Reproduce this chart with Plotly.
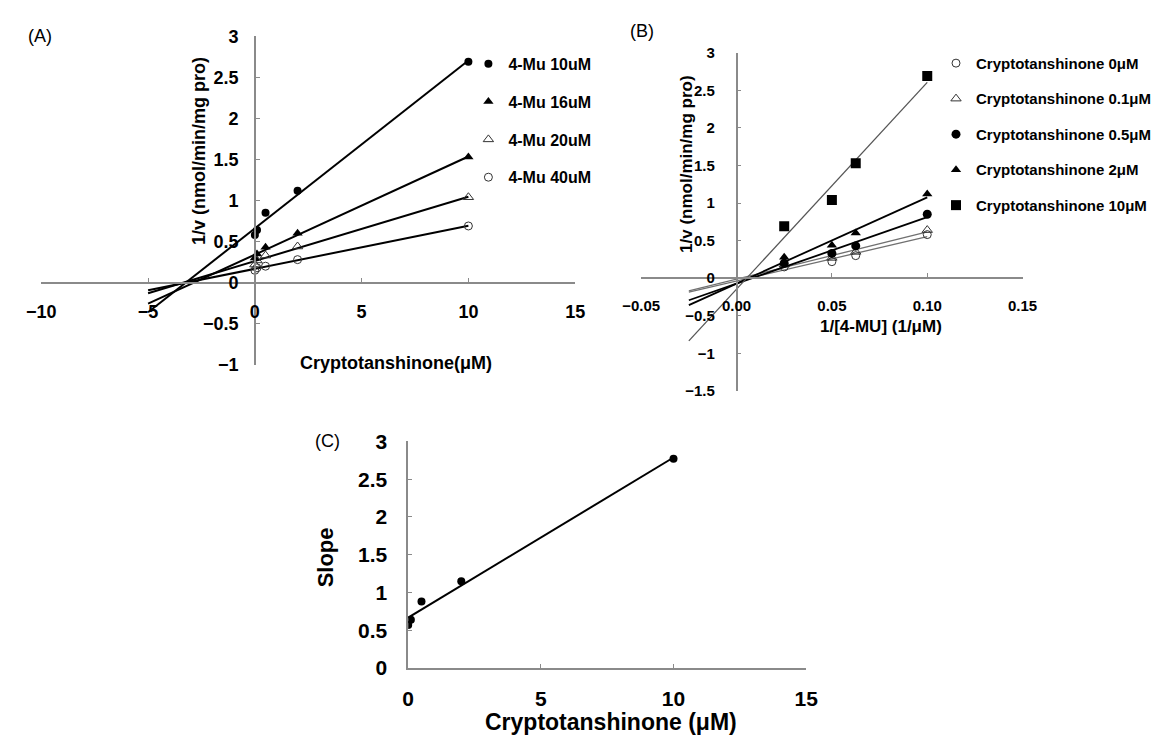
import numpy as np
import plotly.graph_objects as go

W, H = 1157, 746
FONT = "Liberation Sans, Arial, sans-serif"
AXIS_GRAY = "#8a8a8a"

# Cryptotanshinone (inhibitor) concentrations, µM
inhibitor = [0, 0.1, 0.5, 2, 10]
# 4-MU (substrate) concentrations, µM
substrate = [10, 16, 20, 40]

# 1/v (nmol/min/mg pro) at each inhibitor level, one list per 4-MU level
inv_v_mu10 = [0.58, 0.64, 0.85, 1.12, 2.69]
inv_v_mu16 = [0.30, 0.35, 0.43, 0.60, 1.53]
inv_v_mu20 = [0.22, 0.27, 0.33, 0.44, 1.04]
inv_v_mu40 = [0.15, 0.18, 0.20, 0.28, 0.69]

# Secondary plot: slope of each Lineweaver-Burk line vs inhibitor
slope_values = [0.57, 0.64, 0.88, 1.15, 2.77]

dixon_labels = ["4-Mu 10uM", "4-Mu 16uM", "4-Mu 20uM", "4-Mu 40uM"]
lb_labels = ["Cryptotanshinone 0\u03bcM", "Cryptotanshinone 0.1\u03bcM",
             "Cryptotanshinone 0.5\u03bcM", "Cryptotanshinone 2\u03bcM",
             "Cryptotanshinone 10\u03bcM"]


def px_x(p):
    return p / W


def px_y(p):
    return 1 - p / H


def fit_line(x, y, x0, x1):
    k, b = np.polyfit(np.asarray(x, float), np.asarray(y, float), 1)
    xs = np.array([x0, x1])
    return xs, k * xs + b


fig = go.Figure()

# ---------------- (A) Dixon plot ----------------
dixon_series = [inv_v_mu10, inv_v_mu16, inv_v_mu20, inv_v_mu40]
dixon_markers = [
    dict(symbol="circle", size=8, color="black"),
    dict(symbol="triangle-up", size=9, color="black"),
    dict(symbol="triangle-up-open", size=9, color="#333", line=dict(width=1)),
    dict(symbol="circle-open", size=8, color="#333", line=dict(width=1)),
]
for vals, lab, mk in zip(dixon_series, dixon_labels, dixon_markers):
    xs, ys = fit_line(inhibitor, vals, -5, 10)
    fig.add_trace(go.Scatter(x=xs, y=ys, mode="lines", line=dict(color="black", width=2),
                             xaxis="x", yaxis="y", showlegend=False, hoverinfo="skip"))
    fig.add_trace(go.Scatter(x=inhibitor, y=vals, mode="markers", marker=mk, name=lab,
                             xaxis="x", yaxis="y", legend="legend", legendgroup=lab))

# ---------------- (B) Lineweaver-Burk plot ----------------
inv_substrate = [1 / s for s in substrate]
lb_markers = [
    dict(symbol="circle-open", size=8, color="#333", line=dict(width=1)),
    dict(symbol="triangle-up-open", size=9, color="#333", line=dict(width=1)),
    dict(symbol="circle", size=9, color="black"),
    dict(symbol="triangle-up", size=9, color="black"),
    dict(symbol="square", size=10, color="black"),
]
lb_line_styles = [
    dict(color="#707070", width=1.3),
    dict(color="#707070", width=1.3),
    dict(color="black", width=1.8),
    dict(color="black", width=1.8),
    dict(color="#555555", width=1.3),
]
for j, (lab, mk, ls) in enumerate(zip(lb_labels, lb_markers, lb_line_styles)):
    vals = [series[j] for series in dixon_series]
    xs, ys = fit_line(inv_substrate, vals, -0.025, 0.1)
    fig.add_trace(go.Scatter(x=xs, y=ys, mode="lines", line=ls,
                             xaxis="x2", yaxis="y2", showlegend=False, hoverinfo="skip"))
    fig.add_trace(go.Scatter(x=inv_substrate, y=vals, mode="markers", marker=mk, name=lab,
                             xaxis="x2", yaxis="y2", legend="legend2", legendgroup=lab))

# ---------------- (C) secondary plot ----------------
xs, ys = fit_line(inhibitor, slope_values, 0, 10)
fig.add_trace(go.Scatter(x=xs, y=ys, mode="lines", line=dict(color="black", width=2),
                         xaxis="x3", yaxis="y3", showlegend=False, hoverinfo="skip"))
fig.add_trace(go.Scatter(x=inhibitor, y=slope_values, mode="markers",
                         marker=dict(symbol="circle", size=8, color="black"),
                         xaxis="x3", yaxis="y3", showlegend=False))

# ---------------- axes ----------------
A_x = [px_x(23), px_x(573)]
A_y = [px_y(364), px_y(25)]
B_x = [px_x(641), px_x(1034)]
B_y = [px_y(391), px_y(42)]
C_x = [px_x(401), px_x(811)]
C_y = [px_y(677), px_y(443)]


def cross_pos(domain, rng, value):
    return domain[0] + (value - rng[0]) / (rng[1] - rng[0]) * (domain[1] - domain[0])


def axis_style(size, standoff):
    return dict(showline=True, linecolor=AXIS_GRAY, linewidth=1.5, ticks="inside",
                ticklen=4, tickwidth=1.2, tickcolor=AXIS_GRAY, showgrid=False,
                zeroline=False, ticklabelstandoff=standoff,
                tickfont=dict(family=FONT, size=size, color="black", weight="bold"))


A_xr, A_yr = [-10, 15], [-1, 3]
B_xr, B_yr = [-0.05, 0.15], [-1.5, 3]
C_xr, C_yr = [0, 15], [0, 3]

fig.update_layout(
    xaxis=dict(domain=A_x, range=A_xr, dtick=5, anchor="free",
               position=cross_pos(A_y, A_yr, 0), **axis_style(18, 13)),
    yaxis=dict(domain=A_y, range=A_yr, dtick=0.5, anchor="free",
               position=cross_pos(A_x, A_xr, 0), **axis_style(18, 12)),
    xaxis2=dict(domain=B_x, range=B_xr, dtick=0.05, tickformat=".2f", anchor="free",
                position=cross_pos(B_y, B_yr, 0), **axis_style(15, 14)),
    yaxis2=dict(domain=B_y, range=B_yr, dtick=0.5, anchor="free",
                position=cross_pos(B_x, B_xr, 0), **axis_style(15, 18)),
    xaxis3=dict(domain=C_x, range=C_xr, dtick=5, anchor="y3", **axis_style(21, 11)),
    yaxis3=dict(domain=C_y, range=C_yr, dtick=0.5, anchor="x3", **axis_style(21, 15)),
)


def text(x, y, s, size, bold=True, angle=0, xanchor="center"):
    fig.add_annotation(x=px_x(x), y=px_y(y), xref="paper", yref="paper", text=s,
                       showarrow=False, textangle=angle, xanchor=xanchor, yanchor="middle",
                       font=dict(family=FONT, size=size, color="black",
                                 weight="bold" if bold else "normal"))


# panel letters
text(7, 25, "(A)", 18, bold=False, xanchor="left")
text(627, 20, "(B)", 18, bold=False, xanchor="left")
text(303, 443, "(C)", 18, bold=False, xanchor="left")

# axis titles
text(185, 144, "1/v (nmol/min/mg pro)", 18, angle=-90)
text(388, 362, "Cryptotanshinone(\u03bcM)", 18)
text(687, 157, "1/v (nmol/min/mg pro)", 17, angle=-90)
text(888, 324, "1/[4-MU] (1/\u03bcM)", 17)
text(316, 563, "Slope", 22, angle=-90)
text(610, 733, "Cryptotanshinone (\u03bcM)", 23)

fig.update_layout(
    width=W, height=H, margin=dict(l=0, r=0, t=0, b=0),
    paper_bgcolor="white", plot_bgcolor="white",
    font=dict(family=FONT, color="black"),
    legend=dict(x=px_x(463), y=px_y(36), xanchor="left", yanchor="top",
                bgcolor="rgba(0,0,0,0)", tracegroupgap=14,
                font=dict(family=FONT, size=16, color="black", weight="bold")),
    legend2=dict(x=px_x(945), y=px_y(36), xanchor="left", yanchor="top",
                 bgcolor="rgba(0,0,0,0)", tracegroupgap=13,
                 font=dict(family=FONT, size=15, color="black", weight="bold")),
)

fig.write_html("out.html")
